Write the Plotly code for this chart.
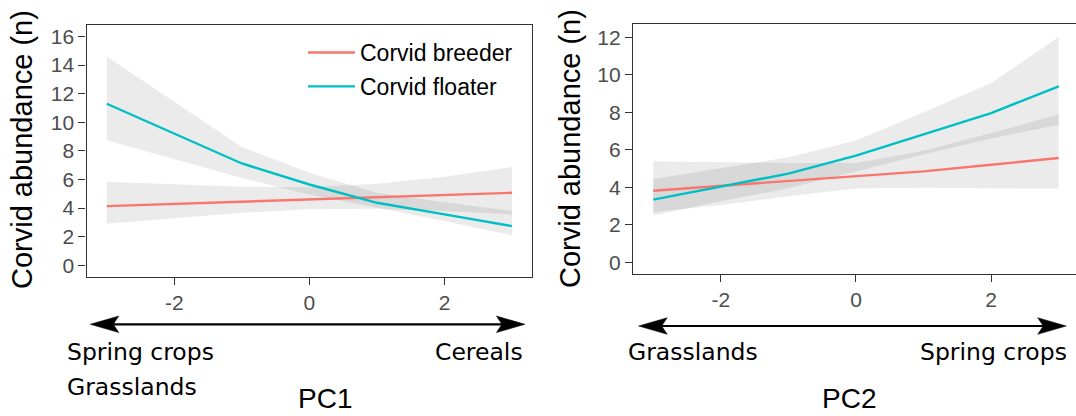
import plotly.graph_objects as go

# ---------------- data ----------------
pc_values = [-3, -2, -1, 0, 1, 2, 3]

# Panel 1 (PC1)
breeder_pc1 = [4.14, 4.29, 4.44, 4.60, 4.75, 4.91, 5.07]
breeder_pc1_hi = [5.84, 5.65, 5.50, 5.45, 5.70, 6.20, 6.88]
breeder_pc1_lo = [2.90, 3.30, 3.67, 3.92, 3.95, 3.80, 3.56]
floater_pc1 = [11.30, 9.20, 7.12, 5.65, 4.37, 3.56, 2.74]
floater_pc1_hi = [14.60, 11.45, 8.28, 6.47, 5.07, 4.40, 3.79]
floater_pc1_lo = [8.74, 7.40, 6.10, 4.95, 4.02, 3.10, 2.09]

# Panel 2 (PC2)
breeder_pc2 = [3.82, 4.08, 4.35, 4.60, 4.85, 5.20, 5.56]
breeder_pc2_hi = [5.39, 5.33, 5.30, 5.30, 5.95, 6.90, 7.88]
breeder_pc2_lo = [2.67, 3.05, 3.52, 3.93, 3.97, 3.95, 3.93]
floater_pc2 = [3.34, 4.05, 4.73, 5.69, 6.81, 7.96, 9.39]
floater_pc2_hi = [4.44, 5.00, 5.60, 6.50, 8.00, 9.56, 12.02]
floater_pc2_lo = [2.49, 3.25, 3.95, 4.85, 5.75, 6.60, 7.34]

series_names = ["Corvid breeder", "Corvid floater"]
x_tickvals = [-2, 0, 2]
x_ticktext = ["-2", "0", "2"]
y1_tickvals = [0, 2, 4, 6, 8, 10, 12, 14, 16]
y2_tickvals = [0, 2, 4, 6, 8, 10, 12]
y_title = "Corvid abundance (n)"

# ---------------- styling ----------------
W, H = 1076, 416
RED = "#F8766D"
TEAL = "#00BFC4"
BAND = "rgba(0,0,0,0.08)"
AX = "#333333"
TICKF = dict(family="Liberation Sans, Arial, sans-serif", size=21, color="#4D4D4D")


def X(px):
    return px / W


def Y(py):
    return 1 - py / H


fig = go.Figure()


def add_panel(xa, ya, b, bhi, blo, f, fhi, flo, legend):
    for hi, lo in ((bhi, blo), (fhi, flo)):
        fig.add_trace(go.Scatter(
            x=pc_values + pc_values[::-1], y=hi + lo[::-1],
            fill="toself", fillcolor=BAND, line=dict(width=0),
            mode="lines", showlegend=False, hoverinfo="skip",
            xaxis=xa, yaxis=ya))
    for name, vals, col, grp in ((series_names[0], b, RED, "g1"),
                                 (series_names[1], f, TEAL, "g2")):
        fig.add_trace(go.Scatter(
            x=pc_values, y=vals, mode="lines", name=name,
            line=dict(color=col, width=2.4),
            showlegend=legend, legendgroup=grp,
            xaxis=xa, yaxis=ya))


add_panel("x", "y", breeder_pc1, breeder_pc1_hi, breeder_pc1_lo,
          floater_pc1, floater_pc1_hi, floater_pc1_lo, True)
add_panel("x2", "y2", breeder_pc2, breeder_pc2_hi, breeder_pc2_lo,
          floater_pc2, floater_pc2_hi, floater_pc2_lo, False)

axis_common = dict(showline=True, mirror=True, linecolor=AX, linewidth=1.3,
                   ticks="outside", ticklen=7, tickwidth=1.3, tickcolor=AX,
                   showgrid=False, zeroline=False, tickfont=TICKF, fixedrange=True)

fig.update_layout(
    width=W, height=H,
    margin=dict(l=0, r=0, t=0, b=0),
    paper_bgcolor="white", plot_bgcolor="white",
    xaxis=dict(domain=[X(86.5), X(532.3)], range=[-3.3, 3.3], anchor="y",
               tickvals=x_tickvals, ticktext=x_ticktext, **axis_common),
    yaxis=dict(domain=[Y(276.7), Y(25.1)], range=[-0.8, 16.8], anchor="x",
               tickvals=y1_tickvals, **axis_common),
    xaxis2=dict(domain=[X(633), 1.0], range=[-3.3, 3.256], anchor="y2",
                tickvals=x_tickvals, ticktext=x_ticktext, **axis_common),
    yaxis2=dict(domain=[Y(273.55), Y(24.2)], range=[-0.6, 12.7], anchor="x2",
                tickvals=y2_tickvals, **axis_common),
    legend=dict(x=X(303), y=Y(31), xanchor="left", yanchor="top",
                bgcolor="rgba(0,0,0,0)", borderwidth=0, itemwidth=47,
                font=dict(family="Liberation Sans, Arial, sans-serif", size=23, color="black"),
                traceorder="grouped", tracegroupgap=1),
    showlegend=True,
)

TXT = dict(family="DejaVu Sans, Verdana, sans-serif", size=23.5, color="black")
BIG = dict(family="Liberation Sans, Arial, sans-serif", size=28, color="black")
YT = dict(family="Liberation Sans, Arial, sans-serif", size=29, color="black")

anns = [
    dict(text=y_title, x=X(22), y=Y(150), textangle=-90, font=YT),
    dict(text=y_title, x=X(570), y=Y(149), textangle=-90, font=YT),
    dict(text="Spring crops", x=X(65), y=Y(352), xanchor="left", font=TXT),
    dict(text="Grasslands", x=X(65), y=Y(387), xanchor="left", font=TXT),
    dict(text="Cereals", x=X(525), y=Y(352), xanchor="right", font=TXT),
    dict(text="PC1", x=X(324.5), y=Y(398.5), font=BIG),
    dict(text="Grasslands", x=X(626), y=Y(352), xanchor="left", font=TXT),
    dict(text="Spring crops", x=X(1068.5), y=Y(352), xanchor="right", font=TXT),
    dict(text="PC2", x=X(849), y=Y(398.5), font=BIG),
]
for a in anns:
    a.update(xref="paper", yref="paper", showarrow=False)
    a.setdefault("xanchor", "center")
    a.setdefault("yanchor", "middle")
fig.update_layout(annotations=anns)


def arrow_path(x0, x1, y, L=28.6, h=8.3, notch=5.5):
    def P(px, py):
        return f"{X(px)},{Y(py)}"
    left = (f"M{P(x0, y)} L{P(x0 + L, y - h)} L{P(x0 + L - notch, y)} "
            f"L{P(x0 + L, y + h)} Z")
    right = (f"M{P(x1, y)} L{P(x1 - L, y - h)} L{P(x1 - L + notch, y)} "
             f"L{P(x1 - L, y + h)} Z")
    return left, right


shapes = []
for x0, x1, y in ((90.2, 525.0, 324.3), (638.6, 1066.3, 326.0)):
    shapes.append(dict(type="line", xref="paper", yref="paper",
                       x0=X(x0 + 6), x1=X(x1 - 6), y0=Y(y), y1=Y(y),
                       line=dict(color="black", width=2.2)))
    for p in arrow_path(x0, x1, y):
        shapes.append(dict(type="path", xref="paper", yref="paper", path=p,
                           fillcolor="black", line=dict(color="black", width=0.5)))
fig.update_layout(shapes=shapes)

fig.write_html(
    "out.html",
    config={"displayModeBar": False},
    post_script="document.body.style.margin='0';document.body.style.overflow='hidden';",
)
